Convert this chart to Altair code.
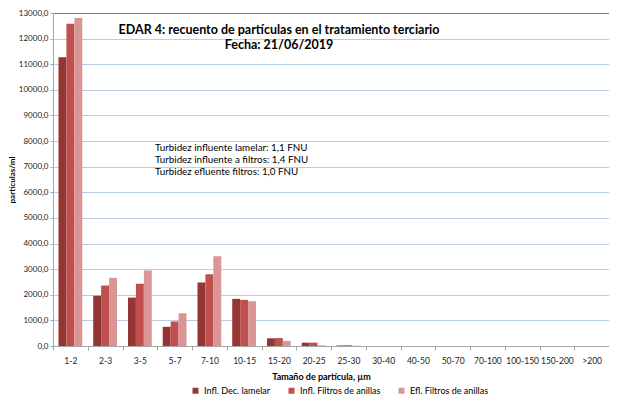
import altair as alt
import pandas as pd

categories = ["1-2", "2-3", "3-5", "5-7", "7-10", "10-15", "15-20", "20-25", "25-30",
              "30-40", "40-50", "50-70", "70-100", "100-150", "150-200", ">200"]
series = ["Infl. Dec. lamelar", "Infl. Filtros de anillas", "Efl. Filtros de anillas"]
infl_lamelar = [11270, 1960, 1890, 750, 2480, 1840, 300, 130, 20, 0, 0, 0, 0, 0, 0, 0]
infl_filtros = [12580, 2360, 2430, 960, 2800, 1800, 310, 130, 30, 0, 0, 0, 0, 0, 0, 0]
efl_filtros = [12800, 2660, 2950, 1280, 3500, 1750, 200, 20, 10, 0, 0, 0, 0, 0, 0, 0]
colors = ["#943634", "#C0504D", "#D99694"]
y_ticks = list(range(0, 14000, 1000))
notes = ["Turbidez influente lamelar: 1,1 FNU",
         "Turbidez influente a filtros: 1,4 FNU",
         "Turbidez efluente filtros: 1,0 FNU"]
title_lines = ["EDAR 4: recuento de partículas en el tratamiento terciario",
               "Fecha: 21/06/2019"]

rows = []
for s, vals in zip(series, [infl_lamelar, infl_filtros, efl_filtros]):
    for c, v in zip(categories, vals):
        rows.append({"cat": c, "serie": s, "valor": v})
df = pd.DataFrame(rows)

FONT = "Lato"

bars = alt.Chart(df).mark_bar().encode(
    x=alt.X("cat:N", sort=categories,
            scale=alt.Scale(paddingInner=0, paddingOuter=0),
            axis=alt.Axis(title="Tamaño de partícula, µm", labelAngle=0, tickBand="extent",
                          grid=False,
                          labelFontSize=8.5, titleFontSize=9, titleFontWeight="bold",
                          labelPadding=6, titlePadding=8, domainColor="#A6A6A6",
                          tickColor="#A6A6A6", tickSize=4, labelColor="#222",
                          titleColor="#000", titleX=268)),
    xOffset=alt.XOffset("serie:N", sort=series,
                        scale=alt.Scale(paddingInner=0, paddingOuter=0.69)),
    y=alt.Y("valor:Q", scale=alt.Scale(domain=[0, 13000], nice=False),
            axis=alt.Axis(title="partículas/ml", values=y_ticks,
                          labelExpr="replace(format(datum.value, '.1f'), '.', ',')",
                          labelFontSize=8, titleFontSize=8, titleFontWeight="bold",
                          gridColor={"condition": {"test": "datum.value === 13000",
                                                   "value": "#4F81BD"},
                                     "value": "#B9CDE5"},
                          gridWidth=1, domainColor="#A6A6A6",
                          tickColor="#A6A6A6", tickSize=3, labelPadding=2,
                          labelColor="#222", titleColor="#000", titlePadding=2)),
    color=alt.Color("serie:N", sort=series,
                    scale=alt.Scale(domain=series, range=colors),
                    legend=alt.Legend(title=None, orient="none", direction="horizontal",
                                      legendX=138, legendY=373, symbolType="square",
                                      symbolSize=36, labelFontSize=9, columnPadding=16,
                                      symbolStrokeWidth=0, labelFont=FONT)),
)

layers = [bars]
for i, t in enumerate(title_lines):
    layers.append(alt.Chart(pd.DataFrame({"t": [t]})).mark_text(
        fontWeight="bold", fontSize=12.5, font=FONT, align="center", baseline="middle"
    ).encode(text="t:N", x=alt.value(226), y=alt.value(17 + 15 * i)))
for i, t in enumerate(notes):
    layers.append(alt.Chart(pd.DataFrame({"t": [t]})).mark_text(
        fontSize=9.8, font=FONT, align="left", baseline="middle"
    ).encode(text="t:N", x=alt.value(102), y=alt.value(135 + 12 * i)))

chart = alt.layer(*layers).properties(
    width=556, height=333,
    autosize=alt.AutoSizeParams(type="none"),
    padding={"left": 45, "top": 5, "right": 0, "bottom": 49},
).configure_view(stroke=None).configure(font=FONT)

chart.save("out.html", embed_options={"renderer": "svg", "actions": False})
